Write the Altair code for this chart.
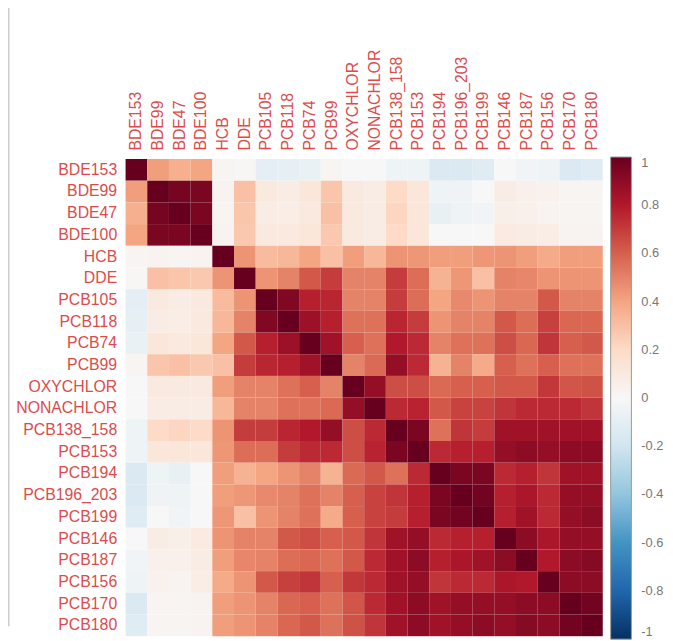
import altair as alt
import pandas as pd

names = ["BDE153", "BDE99", "BDE47", "BDE100", "HCB", "DDE", "PCB105", "PCB118",
         "PCB74", "PCB99", "OXYCHLOR", "NONACHLOR", "PCB138_158", "PCB153", "PCB194",
         "PCB196_203", "PCB199", "PCB146", "PCB187", "PCB156", "PCB170", "PCB180"]

# lower triangle (incl. diagonal) of the correlation matrix, one list per row
r_BDE153 = [1]
r_BDE99 = [0.42, 1]
r_BDE47 = [0.36, 0.96, 1]
r_BDE100 = [0.40, 0.95, 0.95, 1]
r_HCB = [0.02, 0.03, 0.02, 0.03, 1]
r_DDE = [0.01, 0.30, 0.28, 0.27, 0.45, 1]
r_PCB105 = [-0.10, 0.10, 0.08, 0.10, 0.32, 0.45, 1]
r_PCB118 = [-0.09, 0.08, 0.07, 0.10, 0.33, 0.50, 0.93, 1]
r_PCB74 = [-0.07, 0.12, 0.10, 0.12, 0.40, 0.62, 0.78, 0.86, 1]
r_PCB99 = [0.02, 0.28, 0.30, 0.27, 0.30, 0.70, 0.76, 0.78, 0.85, 1]
r_OXYCHLOR = [0.0, 0.10, 0.10, 0.10, 0.42, 0.50, 0.50, 0.55, 0.60, 0.50, 1]
r_NONACHLOR = [0.0, 0.08, 0.08, 0.08, 0.33, 0.50, 0.50, 0.55, 0.55, 0.57, 0.88, 1]
r_PCB138_158 = [-0.05, 0.20, 0.22, 0.20, 0.45, 0.70, 0.70, 0.76, 0.80, 0.88, 0.65, 0.75, 1]
r_PCB153 = [-0.05, 0.12, 0.12, 0.12, 0.44, 0.56, 0.56, 0.70, 0.75, 0.75, 0.65, 0.77, 0.95, 1]
r_PCB194 = [-0.15, -0.05, -0.08, 0.0, 0.42, 0.35, 0.40, 0.45, 0.50, 0.35, 0.57, 0.62, 0.55, 0.75, 1]
r_PCB196_203 = [-0.15, -0.04, -0.05, 0.0, 0.42, 0.44, 0.48, 0.50, 0.55, 0.50, 0.60, 0.68, 0.72, 0.78, 0.95, 1]
r_PCB199 = [-0.12, 0.0, -0.03, 0.0, 0.44, 0.30, 0.45, 0.50, 0.55, 0.38, 0.60, 0.68, 0.70, 0.78, 0.95, 0.97, 1]
r_PCB146 = [0.0, 0.08, 0.06, 0.09, 0.45, 0.50, 0.50, 0.62, 0.65, 0.60, 0.62, 0.72, 0.85, 0.88, 0.75, 0.78, 0.78, 1]
r_PCB187 = [-0.03, 0.05, 0.05, 0.08, 0.42, 0.49, 0.50, 0.56, 0.58, 0.55, 0.62, 0.75, 0.85, 0.90, 0.78, 0.82, 0.85, 0.90, 1]
r_PCB156 = [-0.05, 0.04, 0.03, 0.07, 0.38, 0.45, 0.62, 0.69, 0.72, 0.60, 0.71, 0.75, 0.85, 0.88, 0.72, 0.75, 0.75, 0.82, 0.80, 1]
r_PCB170 = [-0.15, 0.02, 0.02, 0.03, 0.42, 0.45, 0.50, 0.58, 0.60, 0.55, 0.63, 0.75, 0.85, 0.90, 0.85, 0.88, 0.88, 0.88, 0.90, 0.90, 1]
r_PCB180 = [-0.12, 0.02, 0.02, 0.03, 0.42, 0.45, 0.50, 0.58, 0.62, 0.55, 0.64, 0.72, 0.85, 0.90, 0.85, 0.88, 0.90, 0.88, 0.92, 0.90, 0.97, 1]

lower = [r_BDE153, r_BDE99, r_BDE47, r_BDE100, r_HCB, r_DDE, r_PCB105, r_PCB118,
         r_PCB74, r_PCB99, r_OXYCHLOR, r_NONACHLOR, r_PCB138_158, r_PCB153, r_PCB194,
         r_PCB196_203, r_PCB199, r_PCB146, r_PCB187, r_PCB156, r_PCB170, r_PCB180]

legend_ticks = [1, 0.8, 0.6, 0.4, 0.2, 0, -0.2, -0.4, -0.6, -0.8, -1]
rdbu = ["#053061", "#2166AC", "#4393C3", "#92C5DE", "#D1E5F0", "#F7F7F7",
        "#FDDBC7", "#F4A582", "#D6604D", "#B2182B", "#67001F"]
rdbu_domain = [-1, -0.8, -0.6, -0.4, -0.2, 0, 0.2, 0.4, 0.6, 0.8, 1]

rows = []
n = len(names)
for i in range(n):
    for j in range(n):
        v = lower[i][j] if j <= i else lower[j][i]
        rows.append({"row": names[i], "col": names[j], "r": v})
df = pd.DataFrame(rows)

label_red = "#dd4b4b"

heat = alt.Chart(df).mark_rect().encode(
    x=alt.X("col:N", sort=names,
            scale=alt.Scale(domain=names, paddingInner=0, paddingOuter=0),
            axis=alt.Axis(orient="top", title=None, labelAngle=-90, labelAlign="left",
                          labelBaseline="middle", ticks=False, domain=False,
                          labelPadding=9, labelColor=label_red, labelFontSize=16,
                          labelFont="Liberation Sans")),
    y=alt.Y("row:N", sort=names,
            scale=alt.Scale(domain=names, paddingInner=0, paddingOuter=0),
            axis=alt.Axis(title=None, ticks=False, domain=False, labelPadding=9,
                          labelColor=label_red, labelFontSize=16,
                          labelFont="Liberation Sans")),
    color=alt.Color("r:Q",
                    scale=alt.Scale(domain=rdbu_domain, range=rdbu, interpolate="rgb"),
                    legend=alt.Legend(title=None, orient="none", legendX=491, legendY=-2,
                                      direction="vertical", gradientLength=488,
                                      gradientThickness=21, gradientStrokeColor="#999999",
                                      gradientStrokeWidth=1, values=legend_ticks,
                                      labelExpr="replace(format(datum.value, '~g'), '\u2212', '-')",
                                      labelColor="#777777", labelFontSize=13,
                                      labelFont="Liberation Sans", labelOffset=10,
                                      labelBaseline="middle", labelOverlap=False)),
)

edge = alt.Chart(pd.DataFrame({"k": [0]})).mark_rule(color="#cccccc", strokeWidth=2).encode(
    x=alt.value(-118.5), y=alt.value(-160), y2=alt.value(473)
)

chart = alt.layer(heat, edge).properties(
    width=483, height=483,
    autosize=alt.AutoSizeParams(type="none"),
    padding={"left": 119, "top": 149, "right": 63, "bottom": 1},
).configure_view(stroke=None)

chart.save("out.html", embed_options={"renderer": "svg", "actions": False})
